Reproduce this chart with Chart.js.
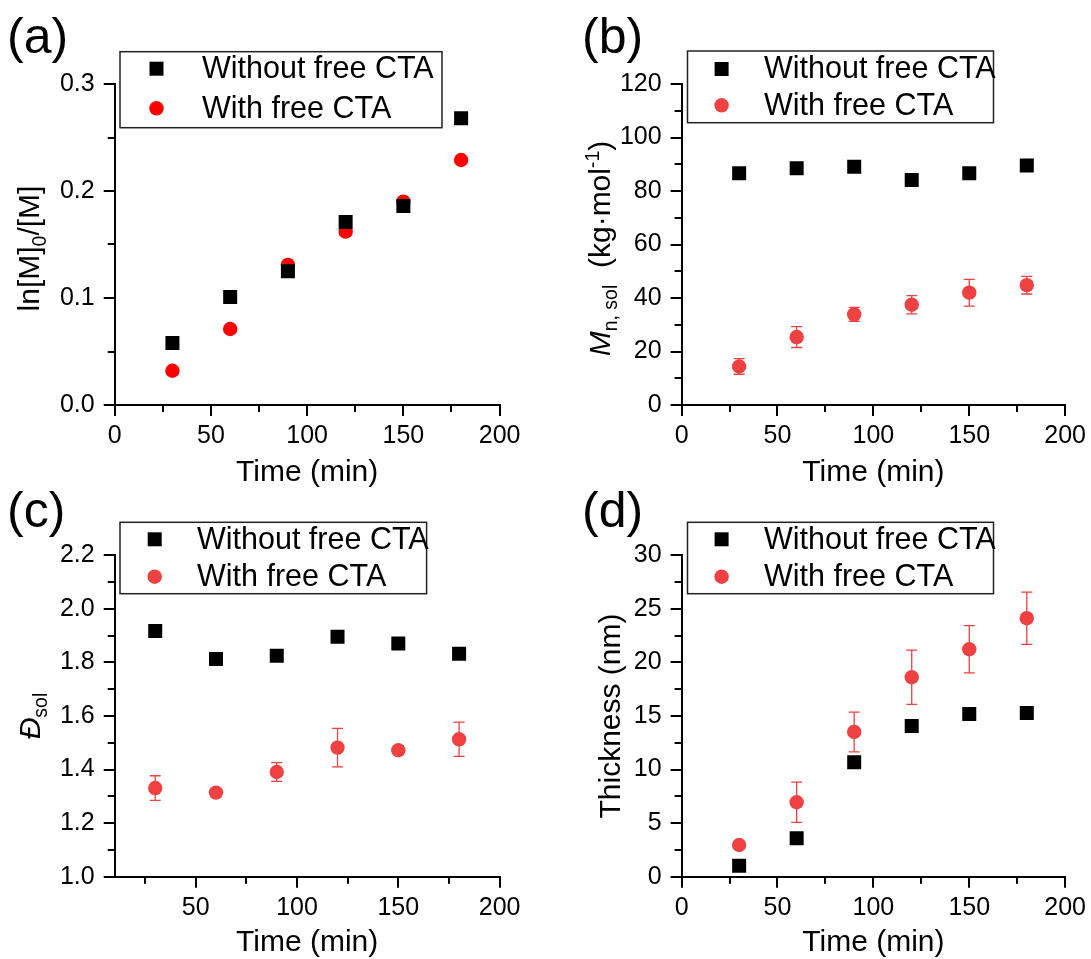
<!DOCTYPE html>
<html lang="en">
<head>
<meta charset="UTF-8">
<title>Polymerization with and without free CTA</title>
<script src="https://cdn.jsdelivr.net/npm/chart.js"></script>
<style>
  body { margin: 0; background: #fff; }
  #wrap { position: relative; width: 1091px; height: 959px; overflow: hidden; background: #fff; }
  canvas { position: absolute; }
</style>
</head>
<body>
<div id="wrap">
  <canvas id="chartA" width="545" height="490" style="left:0;top:0"></canvas>
  <canvas id="chartB" width="546" height="490" style="left:545px;top:0"></canvas>
  <canvas id="chartC" width="545" height="479" style="left:0;top:480px"></canvas>
  <canvas id="chartD" width="546" height="479" style="left:545px;top:480px"></canvas>
</div>

<script>
const FONT = "'Liberation Sans', Arial, sans-serif";
Chart.defaults.font.family = FONT;
Chart.defaults.color = '#000';

// sampling times (min)
const times = [30, 60, 90, 120, 150, 180];
const seriesNames = ['Without free CTA', 'With free CTA'];

// (a) ln[M]0/[M]
const lnNoCTA = [0.058, 0.101, 0.125, 0.171, 0.186, 0.268];
const lnCTA = [0.032, 0.071, 0.131, 0.162, 0.190, 0.229];

// (b) Mn,sol (kg/mol)
const mnNoCTA = [86.6, 88.5, 89.1, 84.1, 86.6, 89.5];
const mnCTA = [14.4, 25.4, 33.9, 37.5, 42.0, 44.8];
const mnCTAErr = [2.9, 3.9, 2.6, 3.4, 5.0, 3.3];

// (c) dispersity
const dNoCTA = [1.917, 1.813, 1.825, 1.896, 1.871, 1.832];
const dCTA = [1.331, 1.314, 1.391, 1.482, 1.472, 1.513];
const dCTAErr = [0.046, 0.012, 0.035, 0.072, 0.015, 0.064];

// (d) thickness (nm)
const thNoCTA = [1.03, 3.58, 10.68, 14.07, 15.19, 15.28];
const thCTA = [2.96, 6.95, 13.51, 18.62, 21.23, 24.13];
const thCTAErr = [0.1, 1.87, 1.86, 2.53, 2.21, 2.44];

// y-axis titles (rich text pieces)
const titleA = [{t: 'ln[M]'}, {t: '0', sub: true}, {t: '/[M]'}];
const titleB = [{t: 'M', it: true}, {t: 'n, sol', sub: true}, {t: '  (kg·mol'}, {t: '-1', sup: true}, {t: ')'}];
const titleC = [{t: 'Đ', it: true}, {t: 'sol', sub: true}];
const titleD = [{t: 'Thickness (nm)'}];

// per-panel decoration placement
const decorations = {
  chartA: {label: '(a)', lx: 7, ly: 53, title: titleA, gap: 76, shift: 4,
           box: [120, 51.7, 442, 127.7], mx: 156.5, tx: 202, rows: [68.7, 108.3]},
  chartB: {label: '(b)', lx: 37, ly: 53, title: titleB, gap: 71.6, shift: 4,
           box: [142.5, 51, 448.5, 122.7], mx: 176.6, tx: 219, rows: [69, 105.3]},
  chartC: {label: '(c)', lx: 7, ly: 47, title: titleC, gap: 74.7, shift: 0,
           box: [120, 42.3, 426.6, 113.7], mx: 154.7, tx: 197, rows: [59.3, 96.7]},
  chartD: {label: '(d)', lx: 37, ly: 47, title: titleD, gap: 62, shift: 0,
           box: [142.5, 42.3, 448.5, 113.7], mx: 176.6, tx: 219, rows: [59.3, 96.7]}
};

const errorBars = {
  id: 'errorBars',
  beforeDatasetsDraw(chart) {
    const {ctx, scales: {x, y}} = chart;
    chart.data.datasets.forEach(ds => {
      if (!ds.errors) return;
      ctx.save();
      ctx.strokeStyle = ds.backgroundColor;
      ctx.lineWidth = 1.3;
      ctx.beginPath();
      ds.data.forEach((p, i) => {
        const e = ds.errors[i];
        const px = x.getPixelForValue(p.x);
        const top = y.getPixelForValue(p.y + e);
        const bot = y.getPixelForValue(p.y - e);
        ctx.moveTo(px, top); ctx.lineTo(px, bot);
        ctx.moveTo(px - 5.5, top); ctx.lineTo(px + 5.5, top);
        ctx.moveTo(px - 5.5, bot); ctx.lineTo(px + 5.5, bot);
      });
      ctx.stroke();
      ctx.restore();
    });
  }
};

// half-length ticks between the labelled ones
const minorTicks = {
  id: 'minorTicks',
  afterDraw(chart, args, opts) {
    const {ctx, chartArea, scales: {x, y}} = chart;
    ctx.save();
    ctx.strokeStyle = '#000';
    ctx.lineWidth = 2;
    ctx.beginPath();
    for (let k = Math.ceil(x.min / opts.x - 1e-9); k * opts.x <= x.max + 1e-9; k++) {
      if (k % 2 === 0) continue;
      const px = Math.round(x.getPixelForValue(k * opts.x));
      ctx.moveTo(px, chartArea.bottom); ctx.lineTo(px, chartArea.bottom + 7);
    }
    for (let k = Math.ceil(y.min / opts.y - 1e-9); k * opts.y <= y.max + 1e-9; k++) {
      if (k % 2 === 0) continue;
      const py = Math.round(y.getPixelForValue(k * opts.y));
      ctx.moveTo(chartArea.left, py); ctx.lineTo(chartArea.left - 7, py);
    }
    ctx.stroke();
    ctx.restore();
  }
};

function segFont(s) {
  const size = (s.sub || s.sup) ? 19.5 : 30;
  return (s.it ? 'italic ' : '') + size + 'px ' + FONT;
}

function drawMarker(ctx, style, x, y, r) {
  ctx.beginPath();
  if (style === 'rect') {
    const h = r * Math.SQRT1_2;
    ctx.rect(x - h, y - h, 2 * h, 2 * h);
  } else {
    ctx.arc(x, y, r, 0, Math.PI * 2);
  }
  ctx.fill();
}

// panel letter, rotated y title and boxed legend
const decor = {
  id: 'decor',
  afterDraw(chart) {
    const d = decorations[chart.canvas.id];
    const ctx = chart.ctx;
    const area = chart.chartArea;
    ctx.save();
    ctx.fillStyle = '#000';
    ctx.textAlign = 'left';
    ctx.textBaseline = 'alphabetic';
    ctx.font = '50px ' + FONT;
    ctx.fillText(d.label, d.lx, d.ly);

    ctx.save();
    let total = 0;
    const widths = d.title.map(s => { ctx.font = segFont(s); const w = ctx.measureText(s.t).width; total += w; return w; });
    ctx.translate(area.left - d.gap, (area.top + area.bottom) / 2 + d.shift);
    ctx.rotate(-Math.PI / 2);
    let cx = -total / 2;
    d.title.forEach((s, i) => {
      ctx.font = segFont(s);
      ctx.fillText(s.t, cx, s.sub ? 7 : (s.sup ? -11 : 0));
      cx += widths[i];
    });
    ctx.restore();

    const [x1, y1, x2, y2] = d.box;
    ctx.strokeStyle = '#222';
    ctx.lineWidth = 1.5;
    ctx.strokeRect(x1, y1, x2 - x1, y2 - y1);
    ctx.font = '30.5px ' + FONT;
    ctx.textBaseline = 'middle';
    chart.data.datasets.forEach((ds, i) => {
      ctx.fillStyle = ds.backgroundColor;
      drawMarker(ctx, ds.pointStyle, d.mx, d.rows[i], ds.pointRadius);
      ctx.fillStyle = '#000';
      ctx.fillText(ds.label, d.tx, d.rows[i] + 1);
    });
    ctx.restore();
  }
};

function makePanel(id, o) {
  const canvas = document.getElementById(id);
  const W = canvas.width, H = canvas.height;
  const axisLine = {display: true, color: '#000', width: 2};
  const tickMarks = {drawOnChartArea: false, drawTicks: true, tickLength: 11, tickWidth: 2, tickColor: '#000', color: '#000', lineWidth: 2};
  return new Chart(canvas, {
    type: 'scatter',
    data: {
      datasets: [
        {label: seriesNames[0], data: times.map((t, i) => ({x: t, y: o.black[i]})),
         pointStyle: 'rect', pointRadius: 9.9, backgroundColor: '#000', pointBorderWidth: 0, borderWidth: 0},
        {label: seriesNames[1], data: times.map((t, i) => ({x: t, y: o.red[i]})), errors: o.err,
         pointStyle: 'circle', pointRadius: 7.2, backgroundColor: o.redColor, pointBorderWidth: 0, borderWidth: 0}
      ]
    },
    options: {
      responsive: false,
      animation: false,
      events: [],
      layout: {padding: {left: 0, top: o.area.top, right: W - o.area.right, bottom: 0}},
      plugins: {
        legend: {display: false},
        tooltip: {enabled: false},
        minorTicks: {x: 25, y: o.yMinor}
      },
      scales: {
        x: {
          type: 'linear', min: o.xMin, max: 200,
          border: axisLine, grid: tickMarks,
          ticks: {stepSize: 50, padding: 5, maxRotation: 0, font: {size: 25}},
          afterBuildTicks: s => { s.ticks = s.ticks.filter(t => t.value % 50 === 0); },
          afterFit: s => { s.height = H - o.area.bottom; },
          title: {display: true, text: 'Time (min)', font: {size: 30, lineHeight: 1}, padding: {top: 0, bottom: o.titlePad}}
        },
        y: {
          type: 'linear', min: o.yMin, max: o.yMax,
          border: axisLine, grid: tickMarks,
          ticks: {stepSize: o.yStep, padding: 9, font: {size: 25}, callback: v => v.toFixed(o.yDec)},
          afterFit: s => { s.width = o.area.left; }
        }
      }
    },
    plugins: [errorBars, minorTicks, decor]
  });
}

makePanel('chartA', {
  black: lnNoCTA, red: lnCTA, err: null, redColor: '#ff0000',
  area: {left: 114.7, right: 499.6, top: 84, bottom: 405}, titlePad: 2.3,
  xMin: 0, yMin: 0, yMax: 0.3, yStep: 0.1, yMinor: 0.05, yDec: 1
});
makePanel('chartB', {
  black: mnNoCTA, red: mnCTA, err: mnCTAErr, redColor: 'rgb(239,65,65)',
  area: {left: 136.6, right: 522, top: 84, bottom: 405}, titlePad: 2.3,
  xMin: 0, yMin: 0, yMax: 120, yStep: 20, yMinor: 10, yDec: 0
});
makePanel('chartC', {
  black: dNoCTA, red: dCTA, err: dCTAErr, redColor: 'rgb(239,65,65)',
  area: {left: 114.7, right: 499.6, top: 75.3, bottom: 396.7}, titlePad: 1,
  xMin: 10, yMin: 1.0, yMax: 2.2, yStep: 0.2, yMinor: 0.1, yDec: 1
});
makePanel('chartD', {
  black: thNoCTA, red: thCTA, err: thCTAErr, redColor: 'rgb(239,65,65)',
  area: {left: 136.6, right: 522, top: 75.3, bottom: 396.7}, titlePad: 1,
  xMin: 0, yMin: 0, yMax: 30, yStep: 5, yMinor: 2.5, yDec: 0
});
</script>
</body>
</html>
